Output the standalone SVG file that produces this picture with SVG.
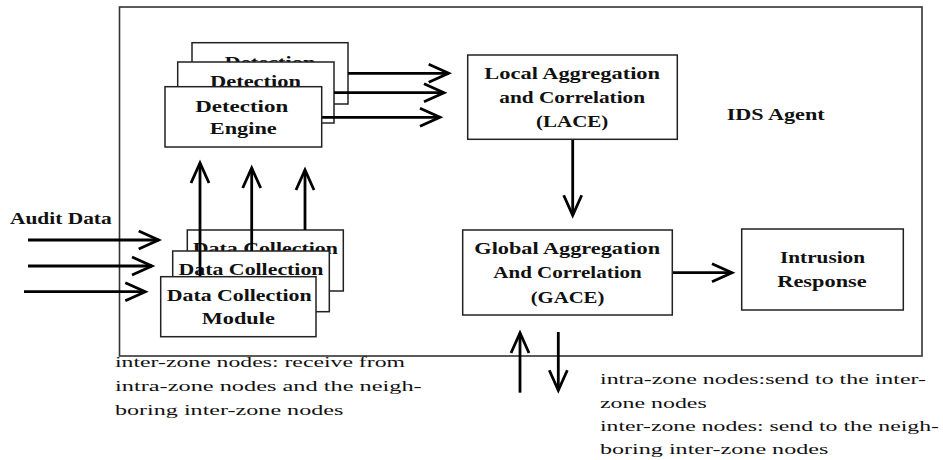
<svg xmlns="http://www.w3.org/2000/svg" width="943" height="460" viewBox="0 0 943 460">
  <style>
    .box { fill: #fff; stroke: #222; stroke-width: 1.5; }
    .frame { fill: none; stroke: #333; stroke-width: 1.6; }
    .wire { fill: none; stroke: #000; stroke-width: 2.8; }
    .lbl { font-family: "Liberation Serif", "DejaVu Serif", serif; font-weight: bold; font-size: 17px; fill: #111; }
    .note { font-family: "Liberation Serif", "DejaVu Serif", serif; font-size: 15px; fill: #111; }
    .c { text-anchor: middle; }
  </style>
  <defs>
    <marker id="ah" markerUnits="userSpaceOnUse" markerWidth="30" markerHeight="26" viewBox="-24 -13 30 26" refX="0" refY="0" orient="auto">
      <path d="M-20,-9 L0,0 L-20,9" fill="none" stroke="#000" stroke-width="2.8" stroke-linejoin="miter" stroke-miterlimit="10"/>
    </marker>
  </defs>

  <!-- IDS agent boundary -->
  <g id="ids-agent">
    <rect class="frame" x="119.5" y="7" width="802.5" height="349"/>
    <text class="lbl" x="726.7" y="120" textLength="98" lengthAdjust="spacingAndGlyphs">IDS Agent</text>
  </g>

  <!-- Detection engines (stacked, back to front) -->
  <g id="detection-engine-3">
    <rect class="box" x="192" y="42.7" width="156" height="61.3"/>
    <text class="lbl c" x="270" y="67.7" textLength="91" lengthAdjust="spacingAndGlyphs">Detection</text>
  </g>
  <g id="detection-engine-2">
    <rect class="box" x="177.7" y="62" width="156.3" height="61"/>
    <text class="lbl c" x="255.5" y="87" textLength="91" lengthAdjust="spacingAndGlyphs">Detection</text>
  </g>

  <!-- Data collection modules (stacked, back to front) -->
  <g id="data-collection-3">
    <rect class="box" x="187.3" y="230" width="156" height="61"/>
    <text class="lbl c" x="265.3" y="254" textLength="145" lengthAdjust="spacingAndGlyphs">Data Collection</text>
  </g>
  <g id="data-collection-2">
    <rect class="box" x="172.7" y="251" width="156.6" height="60.7"/>
    <text class="lbl c" x="251" y="275" textLength="145" lengthAdjust="spacingAndGlyphs">Data Collection</text>
  </g>

  <!-- Connectors -->
  <g id="connectors">
    <!-- engines to LACE -->
    <line class="wire" x1="348" y1="73.3" x2="448.7" y2="73.3" marker-end="url(#ah)"/>
    <line class="wire" x1="334" y1="92.7" x2="444" y2="92.7" marker-end="url(#ah)"/>
    <line class="wire" x1="321.7" y1="117.3" x2="440" y2="117.3" marker-end="url(#ah)"/>
    <!-- collection modules up to engines -->
    <line class="wire" x1="200" y1="276.7" x2="200" y2="163" marker-end="url(#ah)"/>
    <line class="wire" x1="251.7" y1="251" x2="251.7" y2="168" marker-end="url(#ah)"/>
    <line class="wire" x1="305" y1="230" x2="305" y2="170" marker-end="url(#ah)"/>
    <!-- audit data inputs -->
    <line class="wire" x1="28" y1="240" x2="158.7" y2="240" marker-end="url(#ah)"/>
    <line class="wire" x1="28" y1="266" x2="152" y2="266" marker-end="url(#ah)"/>
    <line class="wire" x1="24" y1="291.7" x2="145.3" y2="291.7" marker-end="url(#ah)"/>
    <!-- LACE to GACE -->
    <line class="wire" x1="572.7" y1="139.3" x2="572.7" y2="215.3" marker-end="url(#ah)"/>
    <!-- GACE to intrusion response -->
    <line class="wire" x1="672.3" y1="272.7" x2="732" y2="272.7" marker-end="url(#ah)"/>
    <!-- exchange with other nodes -->
    <line class="wire" x1="520" y1="392.7" x2="520" y2="333" marker-end="url(#ah)"/>
    <line class="wire" x1="558.3" y1="332" x2="558.3" y2="390.3" marker-end="url(#ah)"/>
  </g>

  <!-- Front detection engine -->
  <g id="detection-engine-1">
    <rect class="box" x="165" y="86.7" width="156.7" height="60.3"/>
    <text class="lbl c" x="241.7" y="111.7" textLength="93" lengthAdjust="spacingAndGlyphs">Detection</text>
    <text class="lbl c" x="243.3" y="134" textLength="67" lengthAdjust="spacingAndGlyphs">Engine</text>
  </g>

  <!-- Front data collection module -->
  <g id="data-collection-1">
    <rect class="box" x="160.7" y="276.7" width="155.3" height="60"/>
    <text class="lbl c" x="239.2" y="300.7" textLength="145" lengthAdjust="spacingAndGlyphs">Data Collection</text>
    <text class="lbl c" x="238.3" y="324" textLength="73" lengthAdjust="spacingAndGlyphs">Module</text>
  </g>

  <g id="lace">
    <rect class="box" x="467.7" y="55" width="209.6" height="84.3"/>
    <text class="lbl c" x="572.2" y="79.3" textLength="175.7" lengthAdjust="spacingAndGlyphs">Local Aggregation</text>
    <text class="lbl c" x="572.2" y="103" textLength="145.7" lengthAdjust="spacingAndGlyphs">and Correlation</text>
    <text class="lbl c" x="572.2" y="127" textLength="72.3" lengthAdjust="spacingAndGlyphs">(LACE)</text>
  </g>

  <g id="gace">
    <rect class="box" x="462.7" y="230" width="209.6" height="85"/>
    <text class="lbl c" x="567.2" y="254.3" textLength="185.7" lengthAdjust="spacingAndGlyphs">Global Aggregation</text>
    <text class="lbl c" x="567.5" y="278.3" textLength="148.3" lengthAdjust="spacingAndGlyphs">And Correlation</text>
    <text class="lbl c" x="567.5" y="303.3" textLength="73.7" lengthAdjust="spacingAndGlyphs">(GACE)</text>
  </g>

  <g id="intrusion-response">
    <rect class="box" x="741.7" y="229" width="161.6" height="81"/>
    <text class="lbl c" x="822.5" y="263.3" textLength="85" lengthAdjust="spacingAndGlyphs">Intrusion</text>
    <text class="lbl c" x="822" y="286.7" textLength="89.3" lengthAdjust="spacingAndGlyphs">Response</text>
  </g>

  <g id="audit-data">
    <text class="lbl" x="10" y="224" textLength="101.7" lengthAdjust="spacingAndGlyphs">Audit Data</text>
  </g>

  <g id="inter-zone-receive">
    <text class="note" x="115" y="366.5" textLength="290" lengthAdjust="spacingAndGlyphs">inter-zone nodes: receive from</text>
    <text class="note" x="115" y="391" textLength="306.7" lengthAdjust="spacingAndGlyphs">intra-zone nodes and the neigh-</text>
    <text class="note" x="115" y="415" textLength="228.3" lengthAdjust="spacingAndGlyphs">boring inter-zone nodes</text>
  </g>

  <g id="zone-send">
    <text class="note" x="600" y="384" textLength="326" lengthAdjust="spacingAndGlyphs">intra-zone nodes:send to the inter-</text>
    <text class="note" x="600" y="407.5" textLength="106.7" lengthAdjust="spacingAndGlyphs">zone nodes</text>
    <text class="note" x="600" y="430.5" textLength="339" lengthAdjust="spacingAndGlyphs">inter-zone nodes: send to the neigh-</text>
    <text class="note" x="600" y="454" textLength="228.3" lengthAdjust="spacingAndGlyphs">boring inter-zone nodes</text>
  </g>
</svg>
